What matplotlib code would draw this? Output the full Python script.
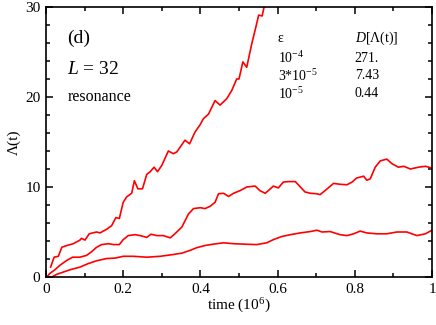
import numpy as np
import matplotlib
matplotlib.use("Agg")
import matplotlib.pyplot as plt
from matplotlib.ticker import MultipleLocator

plt.rcParams['font.family'] = ['Liberation Serif', 'DejaVu Serif']
plt.rcParams['mathtext.fontset'] = 'custom'
plt.rcParams['mathtext.rm'] = 'Liberation Serif'
plt.rcParams['mathtext.it'] = 'Liberation Serif:italic'

# eps = 1e-4
t_a = [0.012, 0.021, 0.032, 0.041, 0.054, 0.071, 0.088, 0.092, 0.101, 0.112,
       0.131, 0.14, 0.157, 0.170, 0.181, 0.19, 0.2, 0.209, 0.222, 0.229,
       0.238, 0.25, 0.261, 0.27, 0.28, 0.289, 0.3, 0.317, 0.330, 0.339,
       0.36, 0.372, 0.386, 0.399, 0.408, 0.421, 0.438, 0.451, 0.468, 0.481,
       0.494, 0.5, 0.51, 0.52, 0.533, 0.545, 0.551, 0.56, 0.565, 0.572]
lam_a = [1.1, 2.2, 2.3, 3.3, 3.5, 3.7, 4.1, 4.3, 4.1, 4.8,
         5.0, 4.9, 5.3, 5.7, 6.6, 6.5, 8.3, 8.9, 9.3, 10.7,
         9.8, 9.8, 11.4, 11.7, 12.2, 11.7, 12.4, 14.0, 13.7, 13.9,
         15.2, 14.8, 16.1, 16.9, 17.6, 18.1, 19.6, 19.1, 19.8, 20.7,
         22.0, 22.0, 23.9, 23.3, 25.9, 28.0, 29.1, 29.0, 30.0, 30.7]

# eps = 3e-5
t_b = [0.002, 0.01, 0.023, 0.036, 0.054, 0.069, 0.088, 0.105, 0.118, 0.131,
       0.144, 0.162, 0.175, 0.19, 0.2, 0.213, 0.231, 0.244, 0.261, 0.272,
       0.287, 0.304, 0.322, 0.334, 0.352, 0.369, 0.382, 0.4, 0.412, 0.425,
       0.438, 0.447, 0.46, 0.473, 0.486, 0.503, 0.52, 0.542, 0.554, 0.568,
       0.576, 0.589, 0.602, 0.615, 0.628, 0.646, 0.659, 0.671, 0.685, 0.702,
       0.71, 0.723, 0.745, 0.762, 0.78, 0.793, 0.805, 0.823, 0.831, 0.84,
       0.853, 0.866, 0.883, 0.896, 0.913, 0.927, 0.944, 0.965, 0.983, 1.0]
lam_b = [0.0, 0.4, 0.8, 1.3, 1.85, 2.2, 2.2, 2.4, 2.8, 3.3,
         3.6, 3.7, 3.6, 3.6, 4.15, 4.6, 4.7, 4.6, 4.4, 4.75,
         4.6, 4.6, 4.35, 4.8, 5.55, 7.0, 7.6, 7.7, 7.6, 7.85,
         8.3, 9.25, 9.3, 8.95, 9.3, 9.6, 10.0, 10.1, 9.6, 9.3,
         9.6, 10.1, 9.9, 10.55, 10.6, 10.6, 10.0, 9.45, 9.3, 9.25,
         9.15, 9.6, 10.4, 10.3, 10.25, 10.55, 11.0, 11.2, 10.75, 10.9,
         12.2, 12.9, 13.1, 12.6, 12.2, 12.3, 12.0, 12.2, 12.3, 12.1]

# eps = 1e-5
t_c = [0.015, 0.028, 0.045, 0.062, 0.088, 0.11, 0.131, 0.157, 0.179, 0.2,
       0.226, 0.261, 0.296, 0.313, 0.33, 0.352, 0.373, 0.39, 0.412, 0.434,
       0.46, 0.486, 0.512, 0.546, 0.572, 0.589, 0.611, 0.633, 0.659, 0.685,
       0.702, 0.715, 0.736, 0.762, 0.78, 0.797, 0.814, 0.831, 0.857, 0.883,
       0.909, 0.935, 0.961, 0.983, 1.0]
lam_c = [0.0, 0.3, 0.55, 0.8, 1.1, 1.5, 1.8, 2.05, 2.1, 2.3,
         2.3, 2.2, 2.3, 2.4, 2.5, 2.65, 2.95, 3.25, 3.5, 3.65,
         3.8, 3.7, 3.65, 3.6, 3.8, 4.15, 4.5, 4.7, 4.9, 5.05,
         5.2, 5.0, 5.05, 4.7, 4.6, 4.8, 5.1, 4.9, 4.8, 4.8,
         5.0, 5.0, 4.6, 4.8, 5.2]

eps_labels = [r'10$^{-4}$', r'3*10$^{-5}$', r'10$^{-5}$']
D_values = ['271.', '7.43', '0.44']

fig = plt.figure(figsize=(4.36, 3.25), dpi=100)
ax = fig.add_axes([0.1055, 0.1477, 0.8853, 0.8308])

for t, lam in [(t_a, lam_a), (t_b, lam_b), (t_c, lam_c)]:
    ax.plot(t, lam, color='red', lw=1.2)

ax.set_xlim(0, 1)
ax.set_ylim(0, 30)
ax.xaxis.set_major_locator(MultipleLocator(0.2))
ax.xaxis.set_minor_locator(MultipleLocator(0.1))
ax.yaxis.set_major_locator(MultipleLocator(10))
ax.yaxis.set_minor_locator(MultipleLocator(2))
ax.set_xticks([0, 0.2, 0.4, 0.6, 0.8, 1])
ax.set_xticklabels(['0', '0.2', '0.4', '0.6', '0.8', '1'])
ax.tick_params(which='both', direction='in', top=True, right=True, labelsize=11, width=1.1)
ax.tick_params(which='major', length=5, pad=4)
ax.tick_params(which='minor', length=3)
for s in ax.spines.values():
    s.set_linewidth(1.2)

ax.set_xlabel(r'time (10$^{6}$)', fontsize=11, labelpad=1)
ax.set_ylabel('Λ(t)', fontsize=11, labelpad=3)

ax.text(0.055, 0.885, '(d)', transform=ax.transAxes, fontsize=14, va='center')
ax.text(0.055, 0.77, r'$L$ = 32', transform=ax.transAxes, fontsize=14, va='center')
ax.text(0.055, 0.665, 'resonance', transform=ax.transAxes, fontsize=11.5, va='center')

ax.text(0.601, 0.885, 'ε', transform=ax.transAxes, fontsize=10, va='center')
ax.text(0.8, 0.885, r'$D$[Λ(t)]', transform=ax.transAxes, fontsize=10, va='center')
for i in range(3):
    y = 0.81 - i * 0.0655
    ax.text(0.601, y, eps_labels[i], transform=ax.transAxes, fontsize=10, va='center')
    ax.text(0.8, y, D_values[i], transform=ax.transAxes, fontsize=10, va='center')

fig.savefig('out.png', dpi=100)
